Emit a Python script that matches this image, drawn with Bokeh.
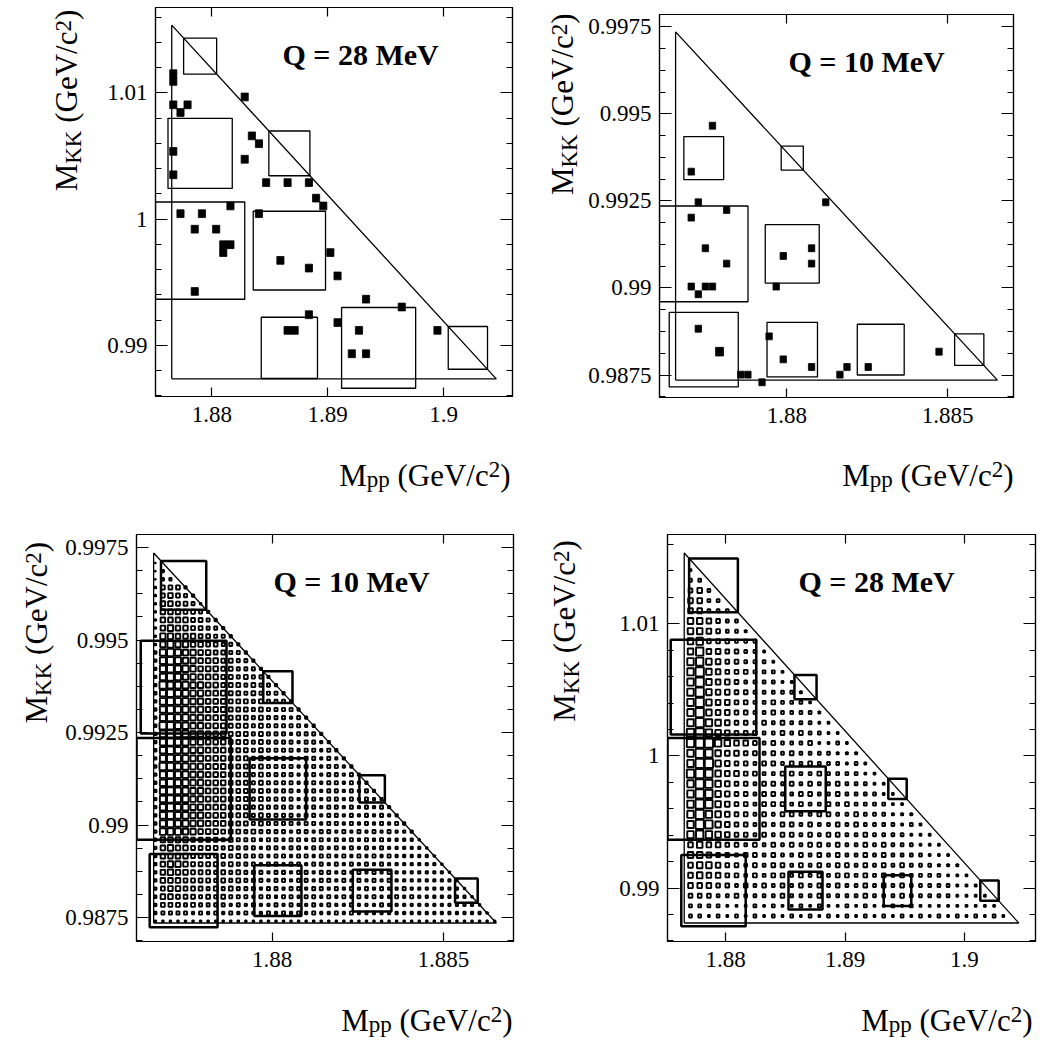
import numpy as np
from bokeh.plotting import figure
from bokeh.models import Label, LinearAxis, FixedTicker, Range1d
from bokeh.layouts import column, row
from bokeh.embed import file_html
from bokeh.resources import INLINE

# ---------------- data ----------------
M_PP = 2 * 0.938272      # 2 m_p  (GeV)
M_KK = 2 * 0.493677      # 2 m_K  (GeV)
Q_VALUES = {"q28": 0.028, "q10": 0.010}

# axis ticks
ticks28_x = [1.88, 1.89, 1.9]
labels28_x = ["1.88", "1.89", "1.9"]
ticks28_y = [0.99, 1.0, 1.01]
labels28_y = ["0.99", "1", "1.01"]
ticks10_x = [1.88, 1.885]
labels10_x = ["1.88", "1.885"]
ticks10_y = [0.9875, 0.99, 0.9925, 0.995, 0.9975]
labels10_y = ["0.9875", "0.99", "0.9925", "0.995", "0.9975"]

# events, Q = 28 MeV (M_pp, M_KK)
ev28_x = [1.87668, 1.87668, 1.87668, 1.87730, 1.87791, 1.87668, 1.87668, 1.88284,
          1.88346, 1.88407, 1.88284, 1.88469, 1.88654, 1.88838, 1.88900, 1.88962,
          1.87730, 1.87915, 1.87853, 1.88038, 1.88161, 1.88099, 1.88161, 1.88099,
          1.88407, 1.88592, 1.88838, 1.89023, 1.89085, 1.87853, 1.88838, 1.89331,
          1.89639, 1.89085, 1.88654, 1.88715, 1.89270, 1.89208, 1.89331, 1.89947]
ev28_y = [1.01151, 1.01090, 1.00905, 1.00844, 1.00905, 1.00536, 1.00351, 1.00967,
          1.00659, 1.00597, 1.00474, 1.00289, 1.00289, 1.00289, 1.00166, 1.00104,
          1.00043, 1.00043, 0.99920, 0.99920, 1.00104, 0.99797, 0.99797, 0.99735,
          1.00043, 0.99673, 0.99612, 0.99735, 0.99550, 0.99427, 0.99243, 0.99366,
          0.99304, 0.99181, 0.99119, 0.99119, 0.99119, 0.98934, 0.98934, 0.99119]
ev28_n = [1] * 40

# events, Q = 10 MeV
ev10_x = [1.87769, 1.87703, 1.87725, 1.87703, 1.87813, 1.87747, 1.87813, 1.87703,
          1.87725, 1.87747, 1.87769, 1.88121, 1.87989, 1.88077, 1.88077, 1.87967,
          1.87725, 1.87791, 1.87945, 1.87989, 1.88077, 1.87857, 1.87879, 1.87923,
          1.88165, 1.88187, 1.88253, 1.88473]
ev10_y = [0.99466, 0.99334, 0.99246, 0.99202, 0.99224, 0.99114, 0.99070, 0.99004,
          0.98982, 0.99004, 0.99004, 0.99246, 0.99092, 0.99114, 0.99070, 0.99004,
          0.98883, 0.98817, 0.98861, 0.98795, 0.98773, 0.98751, 0.98751, 0.98729,
          0.98751, 0.98773, 0.98773, 0.98817]
ev10_n = [1, 1, 1, 1, 1, 1, 1, 1, 1, 1, 1, 1, 1, 1, 1, 1, 1, 2, 1, 1, 1, 1, 1, 1, 1, 1, 1, 1]

# coarse 4x4 box histograms (linear box size / bin size), rows from top
coarse_top28 = [[0.37, 0, 0, 0], [0.72, 0.46, 0, 0], [1.0, 0.81, 0, 0], [0, 0.63, 0.83, 0.44]]
coarse_top10 = [[0, 0, 0, 0], [0.45, 0.25, 0, 0], [1.0, 0.61, 0, 0], [0.78, 0.57, 0.53, 0.33]]
coarse_bot10 = [[0.48, 0, 0, 0], [0.91, 0.31, 0, 0], [1.0, 0.60, 0.27, 0], [0.72, 0.50, 0.41, 0.24]]
coarse_bot28 = [[0.53, 0, 0, 0], [0.93, 0.24, 0, 0], [1.0, 0.44, 0.20, 0], [0.70, 0.37, 0.30, 0.20]]

# fine box histograms: box size in tenths of a bin, rows from row 2 (top) down, columns from col 2
fine10 = [
    "0", "10", "130", "1330", "25553", "256543", "2665542", "26665543", "266665543",
    "2676655443", "27766655443", "278776655443", "3898776655443", "38987766655443",
    "389887666554443", "3898776665545443", "39888776655545443", "389887766655454443",
    "3898877666555454443", "38988776665554544443", "389887766655545444343",
    "3998877666555454444433", "38988776665554544434443", "389887766655545444434433",
    "3898877666555454444344343", "38988776665554544443443433", "399887766655545444434434433",
    "3898877666555454444344344343", "38988776665554544443443443433",
    "389887766655545444434434434343", "3898877666555454444344344343433",
    "38988776665554544443443443434343", "389887766655545444434434434343433",
    "3898877666555454444344344343434343", "38887766655545444434434434343434333",
    "366665555454443443443443434343433332", "3676655554544434434434434343434333332",
    "36666555454544434434434434343434333332", "367765555454443443443443434343433333332",
    "3676655545454443443443443434343433333332", "36665555454544434434434434343434333333332",
    "356655545454443443443443434343433433333332", "3665554545444344344344343434343343433333332",
    "35554544443434334343343433433343333333333332", "344443434343433434343433434333333333333333332",
    "2222222222222222222222222222222222222222222222",
]
fine28 = [
    "0", "20", "330", "4530", "55330", "553330", "6654330", "66543320", "674443330",
    "6855443320", "78654433320", "796544433320", "7965543333220", "79655443333320",
    "796554433433320", "7965544334333320", "79765443434333220", "897654443343433220",
    "8997655434333422320", "79865544343433332220", "799654434434343332320",
    "8986554433443343333220", "79865443443434334333220", "798654434433443343333220",
    "7986544344434334343333220", "79765443434433443343332220", "798654434344343343433332320",
    "7876544343443434433433332220", "56554434343434434334343332220",
    "665443443433434343343433332220", "5665443434434343443434343332220",
    "56554434344343434434343433332220", "555443434343434343343434333332220",
    "4443343333433343333433343333322220", "33332223232232322323223232222222220",
    "332323232323232323232323232323232320",
]

# ---------------- drawing ----------------
SERIF = "Liberation Serif"
CW = {'M': 0.889, 'K': 0.722, 'p': 0.5, ' ': 0.25, '(': 0.333, ')': 0.333, 'G': 0.722,
      'e': 0.444, 'V': 0.722, '/': 0.278, 'c': 0.444, '2': 0.5}


def tw(s, size):
    return sum(CW.get(ch, 0.5) for ch in s) * size


def title_pieces(sub, F, S):
    return [("M", F, 0, 0), (sub, S, -4, 0), ("(GeV/c", F, 0, 0.25 * F), ("2", S, 6, 0), (")", F, 0, 0)]


def strip(w, h, xr, yr):
    s = figure(width=w, height=h, x_range=Range1d(*xr), y_range=Range1d(*yr),
               output_backend="svg", toolbar_location=None,
               x_axis_location=None, y_axis_location=None,
               min_border_left=0, min_border_right=0, min_border_top=0, min_border_bottom=0)
    s.outline_line_color = None
    s.grid.grid_line_color = None
    s.background_fill_color = "white"
    s.border_fill_color = "white"
    return s


def style_axis(ax, major_in, minor):
    ax.major_tick_in = major_in
    ax.major_tick_out = 0
    ax.minor_tick_in = 6 if minor else 0
    ax.minor_tick_out = 0
    ax.axis_line_color = "black"
    ax.axis_line_width = 1.2
    ax.major_tick_line_color = "black"
    ax.major_tick_line_width = 1.2
    ax.minor_tick_line_color = "black" if minor else None
    ax.minor_tick_line_width = 1.2


def make_panel(Q, W, H, a, b, bl, br, bt, fbot, xt, xtl, yt, ytl, ystep, title_dx,
               ytitle_xy, xtitle_xy):
    x0, x1 = M_PP - 0.05 * Q, M_PP + 1.05 * Q
    y0, y1 = M_KK - 0.05 * Q, M_KK + 1.05 * Q
    fw, fh = W - a, H - b
    p = figure(width=fw, height=fh, x_range=Range1d(x0, x1), y_range=Range1d(y0, y1),
               output_backend="svg", toolbar_location=None,
               min_border_left=bl - a, min_border_right=br, min_border_top=bt,
               min_border_bottom=fh - fbot)
    p.grid.grid_line_color = None
    p.outline_line_color = "black"
    p.outline_line_width = 1.2
    p.background_fill_color = "white"
    p.border_fill_color = "white"

    ystart = np.ceil(y0 / ystep - 1e-6) * ystep
    yminor = [round(v, 6) for v in np.arange(ystart, y1, ystep)]

    xa = p.xaxis[0]
    xa.ticker = FixedTicker(ticks=xt, minor_ticks=[])
    xa.major_label_overrides = {t: l for t, l in zip(xt, xtl)}
    xa.major_label_text_font = SERIF
    xa.major_label_text_font_size = "23px"
    xa.major_label_text_color = "black"
    xa.major_label_standoff = 10
    style_axis(xa, 9, False)

    ya = p.yaxis[0]
    ya.ticker = FixedTicker(ticks=yt, minor_ticks=yminor)
    ya.major_label_overrides = {t: l for t, l in zip(yt, ytl)}
    ya.major_label_text_font = SERIF
    ya.major_label_text_font_size = "23px"
    ya.major_label_text_color = "black"
    ya.major_label_standoff = 8
    style_axis(ya, 12, True)

    xtop = LinearAxis(ticker=FixedTicker(ticks=xt, minor_ticks=[]),
                      major_label_text_font_size="1px", major_label_text_color=None,
                      major_label_standoff=0)
    style_axis(xtop, 9, False)
    p.add_layout(xtop, "above")
    yright = LinearAxis(ticker=FixedTicker(ticks=yt, minor_ticks=yminor),
                        major_label_text_font_size="1px", major_label_text_color=None,
                        major_label_standoff=0)
    style_axis(yright, 12, True)
    p.add_layout(yright, "right")

    qlab = Label(x=x0, y=y1, x_offset=title_dx, y_offset=-47, text=f"Q = {round(Q * 1000)} MeV",
                 text_font=SERIF, text_font_size="30px", text_font_style="bold",
                 text_color="black", text_align="left", text_baseline="alphabetic")
    p.add_layout(qlab)

    # y-axis title strip (coordinates = pixels inside the panel, y downwards)
    ys = strip(a, fh, (0, a), (fh, 0))
    bx, by = ytitle_xy
    pos = 0.0
    for t, s, shift, gap in title_pieces("KK", 31, 23):
        pos += gap
        w = tw(t, s)
        ys.add_layout(Label(x=bx - shift - 0.34 * s, y=by, x_offset=0, y_offset=pos + w / 2,
                            text=t, angle=np.pi / 2, text_font=SERIF, text_font_size=f"{s}px",
                            text_color="black", text_align="center", text_baseline="middle"))
        pos += w

    # x-axis title strip
    xs = strip(W, b, (0, W), (H, H - b))
    rx, ry = xtitle_xy
    pieces = title_pieces("pp", 31, 23)
    total = sum(tw(t, s) + g for t, s, _, g in pieces)
    pos = 0.0
    for t, s, shift, gap in pieces:
        pos += gap
        xs.add_layout(Label(x=rx - total + pos, y=ry, x_offset=0, y_offset=shift, text=t,
                            text_font=SERIF, text_font_size=f"{s}px", text_color="black",
                            text_align="left", text_baseline="alphabetic"))
        pos += tw(t, s)

    lay = column(row(ys, p), xs)
    return p, (x0, x1, y0, y1), lay


def draw_coarse(p, ext, coarse, lw):
    x0, x1, y0, y1 = ext
    cw, chh = (x1 - x0) / 4, (y1 - y0) / 4
    xs, ys, ws, hs = [], [], [], []
    for i, vals in enumerate(coarse):
        for j, f in enumerate(vals):
            if f > 0:
                xs.append(x0 + (j + 0.5) * cw)
                ys.append(y1 - (i + 0.5) * chh)
                ws.append(f * cw)
                hs.append(f * chh)
    p.rect(x=xs, y=ys, width=ws, height=hs, fill_color=None, line_color="black", line_width=lw)


def draw_fine(p, ext, rows, nb):
    x0, x1, y0, y1 = ext
    bw, bh = (x1 - x0) / nb, (y1 - y0) / nb
    xs, ys, ws, hs = [], [], [], []
    for k, s in enumerate(rows):
        r = 2 + k
        for m, ch in enumerate(s[:r - 1]):
            d = int(ch)
            if d == 0:
                continue
            c = 2 + m
            xs.append(x0 + (c + 0.5) * bw)
            ys.append(y1 - (r + 0.5) * bh)
            ws.append(d / 10 * bw)
            hs.append(d / 10 * bh)
    p.rect(x=xs, y=ys, width=ws, height=hs, fill_color=None, line_color="black", line_width=1.9)


def draw_events(p, ext, ex, ey, en, nb, base):
    x0, x1, y0, y1 = ext
    bw, bh = (x1 - x0) / nb, (y1 - y0) / nb
    ws = [bw * base * (1.0 if n == 1 else 1.25) for n in en]
    hs = [bh * base * (1.0 if n == 1 else 1.25) for n in en]
    p.rect(x=ex, y=ey, width=ws, height=hs, fill_color="black", line_color="black", line_width=0.8)


def draw_triangle(p, Q):
    tx = [M_PP, M_PP, M_PP + Q, M_PP]
    ty = [M_KK, M_KK + Q, M_KK, M_KK]
    p.line(x=tx, y=ty, line_color="black", line_width=1.3)


Q28, Q10 = Q_VALUES["q28"], Q_VALUES["q10"]

# panel 1: top-left, Q = 28 MeV events
p1, e1, l1 = make_panel(Q28, 520, 520, 90, 84, 155, 8, 7, 396, ticks28_x, labels28_x,
                        ticks28_y, labels28_y, 0.002, 127, (77, 206), (510, 475))
draw_events(p1, e1, ev28_x, ev28_y, ev28_n, 50, 1.0)
draw_coarse(p1, e1, coarse_top28, 1.3)
draw_triangle(p1, Q28)

# panel 2: top-right, Q = 10 MeV events
p2, e2, l2 = make_panel(Q10, 526, 520, 65, 83, 139, 33, 14, 397, ticks10_x, labels10_x,
                        ticks10_y, labels10_y, 0.000625, 129, (53, 206), (493, 475))
draw_events(p2, e2, ev10_x, ev10_y, ev10_n, 50, 0.9)
draw_coarse(p2, e2, coarse_top10, 1.3)
draw_triangle(p2, Q10)

# panel 3: bottom-left, Q = 10 MeV box histogram
p3, e3, l3 = make_panel(Q10, 520, 521, 60, 60, 136, 7, 14, 421, ticks10_x, labels10_x,
                        ticks10_y, labels10_y, 0.000625, 137, (47, 214), (512, 500))
draw_fine(p3, e3, fine10, 50)
draw_coarse(p3, e3, coarse_bot10, 2.5)
draw_triangle(p3, Q10)

# panel 4: bottom-right, Q = 28 MeV box histogram
p4, e4, l4 = make_panel(Q28, 526, 521, 70, 60, 147, 11, 14, 421, ticks28_x, labels28_x,
                        ticks28_y, labels28_y, 0.002, 131, (55, 212), (512, 500))
draw_fine(p4, e4, fine28, 40)
draw_coarse(p4, e4, coarse_bot28, 2.5)
draw_triangle(p4, Q28)

layout = column(row(l1, l2), row(l3, l4))
open("out.html", "w").write(file_html(layout, INLINE))
